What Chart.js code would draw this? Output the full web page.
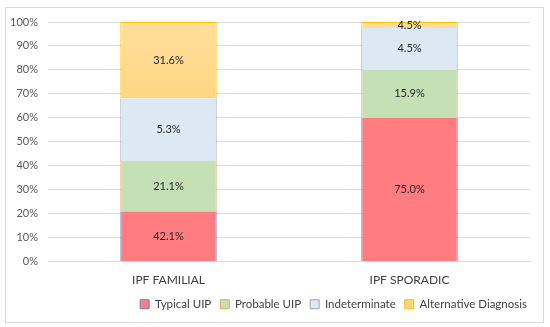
<!DOCTYPE html>
<html>
<head>
<meta charset="utf-8">
<script src="https://cdn.jsdelivr.net/npm/chart.js@4/dist/chart.umd.min.js"></script>
<style>
  html, body { margin: 0; padding: 0; background: #fff; }
  #wrap { position: relative; width: 550px; height: 327px; }
  #frame { position: absolute; left: 5px; top: 7px; width: 537px; height: 314px; border: 1px solid #d9d9d9; }
  canvas { position: absolute; left: 0; top: 0; }
</style>
</head>
<body>
<div id="wrap">
  <div id="frame"></div>
  <canvas id="chart" width="550" height="327"></canvas>
</div>
<script>
// categories and series (bar heights)
const categories = ["IPF FAMILIAL", "IPF SPORADIC"];
const typicalUIP = [21, 60];
const probableUIP = [21, 20];
const indeterminate = [26.2, 17.5];
const alternativeDx = [31.8, 2.5];

// percentages printed on the segments
const typicalLabels = ["42.1%", "75.0%"];
const probableLabels = ["21.1%", "15.9%"];
const indeterminateLabels = ["5.3%", "4.5%"];
const alternativeLabels = ["31.6%", "4.5%"];

const yTicks = [0, 10, 20, 30, 40, 50, 60, 70, 80, 90, 100];

const FONT = "Lato, 'Liberation Sans', sans-serif";

// Draw the value text in the middle of each segment
const segmentLabels = {
  id: "segmentLabels",
  afterDatasetsDraw(chart) {
    const ctx = chart.ctx;
    ctx.save();
    ctx.font = "11px " + FONT;
    ctx.fillStyle = "#262626";
    ctx.textAlign = "center";
    ctx.textBaseline = "middle";
    chart.data.datasets.forEach((ds, i) => {
      const meta = chart.getDatasetMeta(i);
      meta.data.forEach((bar, j) => {
        const y = (bar.y + bar.base) / 2;
        ctx.fillText(ds.segLabels[j], bar.x, y);
      });
    });
    ctx.restore();
  },
};

// nudge the legend a little to the right, like the original
const legendShift = {
  id: "legendShift",
  afterLayout(chart) {
    chart.legend.left += 6;
    chart.legend.right += 6;
  },
};

function yellowFill(context) {
  const area = context.chart.chartArea;
  if (!area) return "#FFD98A";
  const g = context.chart.ctx.createLinearGradient(0, area.top, 0, area.bottom);
  g.addColorStop(0, "#FFDF9E");
  g.addColorStop(0.35, "#FFD47E");
  g.addColorStop(1, "#FFCB66");
  return g;
}

const sides = { left: 1, right: 1, top: 0, bottom: 0 };

const ctx = document.getElementById("chart").getContext("2d");
new Chart(ctx, {
  type: "bar",
  data: {
    labels: categories,
    datasets: [
      {
        label: "Typical UIP",
        data: typicalUIP,
        segLabels: typicalLabels,
        backgroundColor: "#FF7C80",
        borderColor: "#6F7CC8",
        borderWidth: sides,
      },
      {
        label: "Probable UIP",
        data: probableUIP,
        segLabels: probableLabels,
        backgroundColor: "#C5E0B4",
        borderColor: "#F0A060",
        borderWidth: sides,
      },
      {
        label: "Indeterminate",
        data: indeterminate,
        segLabels: indeterminateLabels,
        backgroundColor: "#DDE8F5",
        borderColor: "#A5A5A5",
        borderWidth: sides,
      },
      {
        label: "Alternative Diagnosis",
        data: alternativeDx,
        segLabels: alternativeLabels,
        backgroundColor: yellowFill,
        borderColor: "#FFC000",
        borderWidth: { left: 1, right: 1, top: 1, bottom: 0 },
      },
    ].map((d) => ({
      ...d,
      borderSkipped: false,
      categoryPercentage: 1,
      barPercentage: 0.4,
    })),
  },
  options: {
    responsive: false,
    animation: false,
    layout: { padding: { left: 0, right: 20, top: 22, bottom: 7 } },
    plugins: {
      tooltip: { enabled: false },
      legend: {
        position: "bottom",
        align: "end",
        labels: {
          boxWidth: 9,
          boxHeight: 9,
          padding: 9,
          color: "#404040",
          font: { size: 11.5, family: FONT },
          generateLabels(chart) {
            return chart.data.datasets.map((ds, i) => ({
              text: ds.label,
              fillStyle: i === 3 ? "#FFD47E" : ds.backgroundColor,
              strokeStyle: ds.borderColor,
              lineWidth: 1,
              datasetIndex: i,
              fontColor: "#404040",
            }));
          },
        },
      },
    },
    scales: {
      x: {
        stacked: true,
        grid: { display: false, drawTicks: false },
        border: { color: "#d9d9d9" },
        ticks: { color: "#404040", padding: 11, font: { size: 12, family: FONT } },
        afterFit(s) { s.height = 28; },
      },
      y: {
        stacked: true,
        min: 0,
        max: 100,
        afterBuildTicks(s) { s.ticks = yTicks.map((v) => ({ value: v })); },
        grid: { color: "#d9d9d9", drawTicks: false },
        border: { display: false },
        ticks: {
          color: "#595959",
          padding: 10,
          font: { size: 11, family: FONT },
          callback: (v) => v + "%",
        },
        afterFit(s) { s.width = 48; },
      },
    },
  },
  plugins: [segmentLabels, legendShift],
});
</script>
</body>
</html>
